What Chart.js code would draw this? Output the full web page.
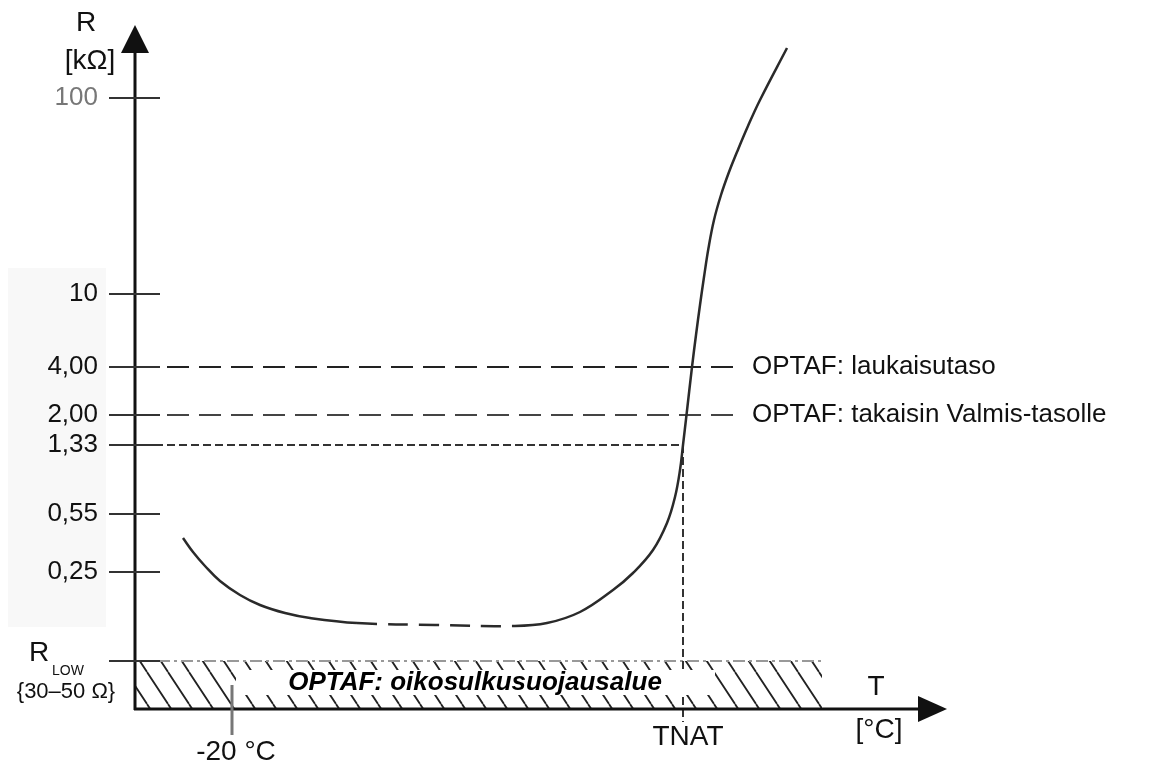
<!DOCTYPE html>
<html>
<head>
<meta charset="utf-8">
<script src="https://cdn.jsdelivr.net/npm/chart.js@4"></script>
<style>
  html, body { margin: 0; background: #fff; }
  #wrap { width: 1168px; height: 772px; }
</style>
</head>
<body>
<div id="wrap"><canvas id="chart"></canvas></div>
<script>
// schematic diagram, not to scale: x runs along the T axis, y up the R axis
const tickLabels = ["100", "10", "4,00", "2,00", "1,33", "0,55", "0,25", ""]
const tickLevels = [612, 416, 343, 295, 265, 196, 138, 49]

const curveX = [48, 58, 70, 85, 105, 125, 150, 175, 222, 300, 377, 412, 445, 478, 498, 518, 532, 540, 545, 548, 551.5, 557, 561, 565, 569, 573.5, 579, 586, 594, 602, 613, 625, 652]
const curveY = [172, 158, 144, 129, 115, 105, 97, 92, 87, 85, 84, 87, 98, 120, 137, 160, 187, 213, 240, 265, 295, 343, 375, 405, 433, 462, 490, 515, 538, 558, 584, 610, 662]
const dashedFrom = 222
const dashedTo = 377

const tripLevel = 343
const resetLevel = 295
const tnatLevel = 265
const tnatX = 548
const minus20X = 97
const rLowLevel = 49
const hatchEndX = 687
const thresholdEndX = 602

const FONT = "'Liberation Sans', Arial, sans-serif"
Chart.defaults.font.family = FONT

function hatchPattern() {
  const w = 21, h = 32
  const c = document.createElement("canvas")
  c.width = w
  c.height = h
  const g = c.getContext("2d")
  g.strokeStyle = "#222"
  g.lineWidth = 1.8
  g.beginPath()
  for (const dx of [-w, 0, w]) {
    g.moveTo(dx, 0)
    g.lineTo(dx + w, h)
  }
  g.stroke()
  return g.createPattern(c, "repeat")
}

function text(ctx, str, x, y, size, opts = {}) {
  ctx.save()
  ctx.font = `${opts.style || ""} ${size}px ${FONT}`
  ctx.fillStyle = opts.color || "#111"
  ctx.textAlign = opts.align || "center"
  ctx.textBaseline = opts.baseline || "middle"
  ctx.fillText(str, x, y)
  ctx.restore()
}

const diagramPlugin = {
  id: "diagram",
  beforeDraw(chart) {
    const { ctx } = chart
    ctx.save()
    ctx.fillStyle = "#fff"
    ctx.fillRect(0, 0, chart.width, chart.height)
    ctx.fillStyle = "#f8f8f8"
    ctx.fillRect(8, 268, 98, 359)
    ctx.restore()
  },
  afterDatasetsDraw(chart) {
    const { ctx, scales: { x, y } } = chart
    const x0 = x.getPixelForValue(0)
    const y0 = y.getPixelForValue(0)
    const top = y.getPixelForValue(y.max)
    const right = x.getPixelForValue(x.max)

    // white label box over the hatch
    const bx1 = x.getPixelForValue(101), bx2 = x.getPixelForValue(580)
    const by1 = y.getPixelForValue(40), by2 = y.getPixelForValue(15)
    ctx.save()
    ctx.fillStyle = "#fff"
    ctx.fillRect(bx1, by1, bx2 - bx1, by2 - by1)
    ctx.restore()
    text(ctx, "OPTAF: oikosulkusuojausalue", x.getPixelForValue(340), y.getPixelForValue(27), 26, { style: "italic bold", color: "#000" })

    ctx.save()
    ctx.strokeStyle = "#111"
    ctx.fillStyle = "#111"
    ctx.lineWidth = 3
    // axes
    ctx.beginPath()
    ctx.moveTo(x0, y0)
    ctx.lineTo(x0, top + 20)
    ctx.moveTo(x0 - 1, y0 - 1)
    ctx.lineTo(right - 20, y0 - 1)
    ctx.stroke()
    // arrow heads
    ctx.beginPath()
    ctx.moveTo(x0, top - 1)
    ctx.lineTo(x0 - 14, top + 27)
    ctx.lineTo(x0 + 14, top + 27)
    ctx.closePath()
    ctx.fill()
    ctx.beginPath()
    ctx.moveTo(right + 2, y0 - 1)
    ctx.lineTo(right - 27, y0 - 14)
    ctx.lineTo(right - 27, y0 + 12)
    ctx.closePath()
    ctx.fill()

    // tick crosses on the R axis
    ctx.lineWidth = 2
    ctx.strokeStyle = "#333"
    tickLevels.forEach((lv) => {
      const py = y.getPixelForValue(lv)
      ctx.beginPath()
      ctx.moveTo(x0 - 26, py)
      ctx.lineTo(x0 + 25, py)
      ctx.stroke()
    })

    // -20 °C tick
    const px20 = x.getPixelForValue(minus20X)
    ctx.strokeStyle = "#777"
    ctx.lineWidth = 3
    ctx.beginPath()
    ctx.moveTo(px20, y0 - 25)
    ctx.lineTo(px20, y0 + 25)
    ctx.stroke()
    ctx.restore()

    // labels
    text(ctx, "R", 86, 23, 28)
    text(ctx, "[kΩ]", 90, 61, 28)
    const lowY = y.getPixelForValue(rLowLevel)
    text(ctx, "R", 29, lowY - 8, 28, { align: "left" })
    text(ctx, "LOW", 52, lowY + 14, 14, { align: "left", baseline: "alphabetic" })
    text(ctx, "{30–50 Ω}", 66, lowY + 31, 22)

    const lx = x.getPixelForValue(thresholdEndX) + 15
    text(ctx, "OPTAF: laukaisutaso", lx, y.getPixelForValue(tripLevel), 26, { align: "left" })
    text(ctx, "OPTAF: takaisin Valmis-tasolle", lx, y.getPixelForValue(resetLevel), 26, { align: "left" })

    text(ctx, "-20 °C", px20 + 4, y0 + 42, 28)
    text(ctx, "TNAT", x.getPixelForValue(tnatX) + 5, y0 + 27, 28)
    text(ctx, "T", right - 69, y0 - 23, 28)
    text(ctx, "[°C]", right - 66, y0 + 20, 28)
  }
}

const curveData = curveX.map((v, i) => ({ x: v, y: curveY[i] }))

new Chart(document.getElementById("chart"), {
  type: "line",
  data: {
    datasets: [
      {
        data: curveData,
        borderColor: "#2a2a2a",
        borderWidth: 2.5,
        tension: 0.4,
        pointRadius: 0,
        order: 1,
        segment: {
          borderDash: (c) => (c.p0.parsed.x >= dashedFrom && c.p1.parsed.x <= dashedTo ? [20, 11] : undefined)
        }
      },
      {
        data: [{ x: 0, y: tripLevel }, { x: thresholdEndX, y: tripLevel }],
        borderColor: "#222",
        borderWidth: 2,
        borderDash: [22, 10],
        pointRadius: 0,
        order: 2
      },
      {
        data: [{ x: 0, y: resetLevel }, { x: thresholdEndX, y: resetLevel }],
        borderColor: "#444",
        borderWidth: 2,
        borderDash: [22, 10],
        pointRadius: 0,
        order: 2
      },
      {
        data: [{ x: 20, y: tnatLevel }, { x: tnatX, y: tnatLevel }, { x: tnatX, y: -12 }],
        borderColor: "#333",
        borderWidth: 2,
        borderDash: [8, 4],
        pointRadius: 0,
        clip: false,
        order: 3
      },
      {
        data: [{ x: 0, y: rLowLevel }, { x: hatchEndX, y: rLowLevel }],
        borderColor: "#999",
        borderWidth: 2,
        borderDash: [12, 4, 3, 4],
        backgroundColor: hatchPattern(),
        fill: "origin",
        pointRadius: 0,
        order: 5
      }
    ]
  },
  options: {
    responsive: true,
    maintainAspectRatio: false,
    animation: false,
    layout: { padding: { top: 26, right: 223, bottom: 62, left: 0 } },
    plugins: { legend: { display: false }, tooltip: { enabled: false } },
    scales: {
      x: { type: "linear", min: 0, max: 810, display: false },
      y: {
        type: "linear",
        min: 0,
        max: 684,
        afterFit: (scale) => { scale.width = 135 },
        afterBuildTicks: (scale) => { scale.ticks = tickLevels.map((v) => ({ value: v })) },
        border: { display: false },
        grid: { display: false, drawTicks: true, tickLength: 37 },
        ticks: {
          autoSkip: false,
          padding: 0,
          font: { size: 26 },
          color: (c) => (c.index === 0 ? "#777" : "#111"),
          callback: (value, index) => tickLabels[index]
        }
      }
    }
  },
  plugins: [diagramPlugin]
})
</script>
</body>
</html>
